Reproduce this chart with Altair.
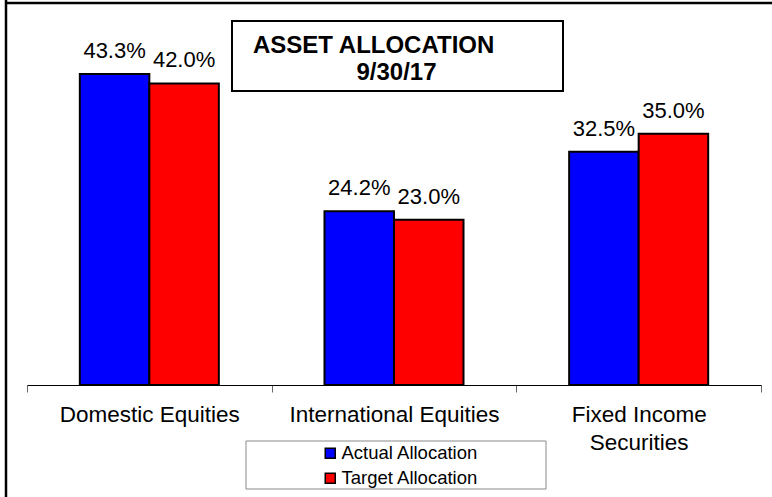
import altair as alt
import pandas as pd

categories = ["Domestic Equities", "International Equities", "Fixed Income|Securities"]
series = ["Actual Allocation", "Target Allocation"]
actual = [43.3, 24.2, 32.5]
target = [42.0, 23.0, 35.0]
colors = ["#0000FF", "#FF0000"]
title_line1 = "ASSET ALLOCATION"
title_line2 = "9/30/17"

rows = []
for c, a, t in zip(categories, actual, target):
    rows.append({"category": c, "series": series[0], "value": a})
    rows.append({"category": c, "series": series[1], "value": t})
df = pd.DataFrame(rows)
df["label"] = df["value"].map(lambda v: f"{v:.1f}%")

FONT = "Liberation Sans"

x_enc = alt.X(
    "category:N", sort=categories,
    scale=alt.Scale(paddingInner=0, paddingOuter=0),
    axis=alt.Axis(title=None, labelAngle=0, labelFontSize=22.5, labelFont=FONT,
                  labelColor="black", labelPadding=11, tickSize=7, tickBand="extent",
                  tickColor="#666666", domainColor="black", domainWidth=1,
                  labelExpr="split(datum.label, '|')", labelLineHeight=28,
                  labelLimit=0),
)
xoff = alt.XOffset("series:N", sort=series,
                   scale=alt.Scale(paddingInner=0, paddingOuter=0.76))
y_enc = alt.Y("value:Q", scale=alt.Scale(domain=[0, 50]), axis=None)

base = alt.Chart(df)

bars = base.mark_bar(stroke="black", strokeWidth=2).encode(
    x=x_enc, xOffset=xoff, y=y_enc,
    color=alt.Color("series:N", sort=series,
                    scale=alt.Scale(domain=series, range=colors),
                    legend=alt.Legend(title=None, orient="none", legendX=294, legendY=418,
                                      symbolType="square", symbolSize=100,
                                      symbolStrokeColor="black", symbolStrokeWidth=1.5,
                                      labelFontSize=18.5, labelFont=FONT, labelColor="black",
                                      rowPadding=6, labelOffset=2, padding=0)),
)

labels = base.mark_text(fontSize=22, font=FONT, dy=-16, baseline="alphabetic",
                        color="black").encode(
    x=x_enc, xOffset=xoff, y=y_enc, text="label:N"
)

one = pd.DataFrame({"a": [0]})

title_box = alt.Chart(one).mark_rect(fill="white", stroke="black", strokeWidth=2).encode(
    x=alt.value(205), x2=alt.value(536), y=alt.value(-5), y2=alt.value(65)
)
title_t1 = alt.Chart(one).mark_text(align="left", baseline="alphabetic", fontSize=24,
                                    fontWeight="bold", font=FONT, color="black",
                                    text=title_line1).encode(
    x=alt.value(226), y=alt.value(27)
)
title_t2 = alt.Chart(one).mark_text(align="center", baseline="alphabetic", fontSize=24,
                                    fontWeight="bold", font=FONT, color="black",
                                    text=title_line2).encode(
    x=alt.value(369.5), y=alt.value(54)
)
legend_box = alt.Chart(one).mark_rect(fill="white", stroke="#888888", strokeWidth=1).encode(
    x=alt.value(219), x2=alt.value(519), y=alt.value(415), y2=alt.value(463)
)
left_border = alt.Chart(one).mark_rule(color="black", strokeWidth=2.5).encode(
    x=alt.value(-21), y=alt.value(-26), y2=alt.value(471)
)
top_border = alt.Chart(one).mark_rule(color="black", strokeWidth=2.5).encode(
    y=alt.value(-23), x=alt.value(-22), x2=alt.value(745)
)

chart = alt.layer(
    legend_box, bars, labels, title_box, title_t1, title_t2, left_border, top_border
).properties(
    width=734, height=359,
    autosize=alt.AutoSizeParams(type="none"),
    padding={"left": 27, "top": 26, "right": 11, "bottom": 112},
    background="white",
).configure_view(stroke=None)

chart.save("out.html", embed_options={"renderer": "svg", "actions": False})
